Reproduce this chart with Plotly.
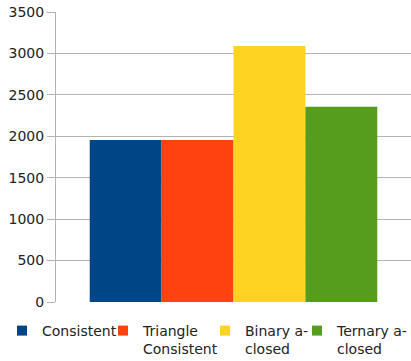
import plotly.graph_objects as go

categories = [""]
series_names = ["Consistent", "Triangle<br>Consistent", "Binary a-<br>closed", "Ternary a-<br>closed"]
series_values = [1955, 1955, 3090, 2355]
colors = ["#004586", "#ff420e", "#ffd320", "#579d1c"]
y_ticks = [0, 500, 1000, 1500, 2000, 2500, 3000, 3500]

W, H = 411, 361
legend_x_px = [2, 103, 205, 297]
legend_top_px = 315

fig = go.Figure()
for i, (name, val, col) in enumerate(zip(series_names, series_values, colors)):
    lg = "legend" if i == 0 else f"legend{i+1}"
    fig.add_trace(go.Bar(x=categories, y=[val], name=name, marker=dict(color=col, line=dict(width=0)),
                         showlegend=False, legendgroup=name))
    # legend proxy with a smaller square symbol
    fig.add_trace(go.Scatter(x=[None], y=[None], mode="markers", name=name, legend=lg,
                             legendgroup=name,
                             marker=dict(symbol="square", size=10, color=col, line=dict(width=0))))

txt = "#222222"
layout_legends = {}
for i, lx in enumerate(legend_x_px):
    key = "legend" if i == 0 else f"legend{i+1}"
    layout_legends[key] = dict(x=lx / W, xref="container", y=1 - legend_top_px / H, yref="container",
                               yanchor="top", xanchor="left", orientation="h", valign="top",
                               font=dict(family="DejaVu Sans", size=14, color=txt),
                               bgcolor="rgba(0,0,0,0)", borderwidth=0,
                               tracegroupgap=0)

fig.update_layout(
    width=W, height=H,
    margin=dict(l=56, r=0, t=12, b=59),
    plot_bgcolor="white", paper_bgcolor="white",
    barmode="group", bargap=0.19, bargroupgap=0,
    font=dict(family="DejaVu Sans", size=13, color=txt),
    showlegend=True,
    **layout_legends,
)
fig.update_xaxes(showticklabels=False, showgrid=False, zeroline=False, showline=False,
                 range=[-0.5, 0.5], fixedrange=True)
fig.update_yaxes(range=[0, 3500], tickvals=y_ticks, showgrid=True, gridcolor="#b3b3b3",
                 gridwidth=1, zeroline=False, showline=True, linecolor="#b3b3b3", linewidth=1,
                 ticks="outside", ticklen=8, tickcolor="#b3b3b3",
                 tickfont=dict(family="DejaVu Sans", size=14, color=txt))

fig.write_html("out.html")
